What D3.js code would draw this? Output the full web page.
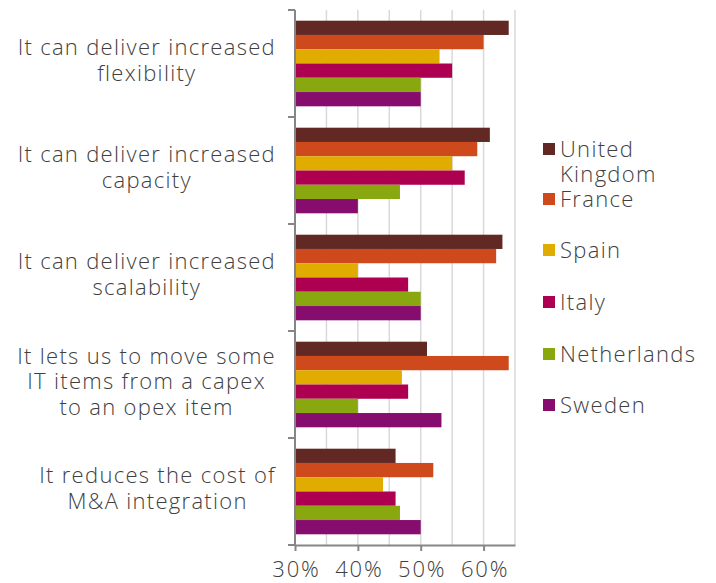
<!DOCTYPE html>
<html>
<head>
<meta charset="utf-8">
<script src="https://cdn.jsdelivr.net/npm/d3@7"></script>
<style>
  body { margin: 0; background: #fff; }
  text { font-family: "Open Sans", Lato, sans-serif; font-weight: 300; fill: #404040; letter-spacing: 1.3px; }
</style>
</head>
<body>
<div id="chart"></div>
<script>
// categories, top to bottom (each line of a label is an entry)
const categories = [
  ["It can deliver increased", "flexibility"],
  ["It can deliver increased", "capacity"],
  ["It can deliver increased", "scalability"],
  ["It lets us to move some", "IT items from a capex", "to an opex item"],
  ["It reduces the cost of", "M&A integration"]
]
const series = ["United Kingdom", "France", "Spain", "Italy", "Netherlands", "Sweden"]
const colors = ["#622823", "#ce4a1c", "#e1ac00", "#ad0050", "#89a70e", "#860d6d"]
// values in %, one row per category, columns follow series order
const values = [
  [64, 60, 53, 55, 50, 50],
  [61, 59, 55, 57, 46.7, 40],
  [63, 62, 40, 48, 50, 50],
  [51, 64, 47, 48, 40, 53.3],
  [46, 52, 44, 46, 46.7, 50]
]
const xTicks = [30, 40, 50, 60]

const W = 716, H = 583
const svg = d3.select("#chart").append("svg").attr("width", W).attr("height", H)

const x = d3.scaleLinear().domain([30, 65]).range([295, 515])
const y0 = d3.scaleBand().domain(d3.range(categories.length)).range([10, 545])
const bw = y0.bandwidth()
const gap = bw * 0.2
const y1 = d3.scaleBand().domain(series).range([gap / 2, bw - gap / 2])

// gridlines every 5%
svg.append("g")
  .selectAll("line")
  .data(d3.range(35, 66, 5))
  .enter().append("line")
  .attr("x1", d => x(d)).attr("x2", d => x(d))
  .attr("y1", 10).attr("y2", 545)
  .style("stroke", "#d9d9d9").style("stroke-width", 1.5)

// bars
categories.forEach((c, i) => {
  svg.append("g")
    .attr("transform", "translate(0," + y0(i) + ")")
    .selectAll("rect")
    .data(values[i])
    .enter().append("rect")
    .attr("x", x(30))
    .attr("y", (d, j) => y1(series[j]))
    .attr("width", d => x(d) - x(30))
    .attr("height", y1.bandwidth())
    .style("fill", (d, j) => colors[j])
})

// axes
const xAxis = svg.append("g")
  .attr("transform", "translate(0,545)")
  .call(d3.axisBottom(x).tickValues(xTicks).tickSize(6).tickSizeOuter(0).tickFormat(d => d + "%"))
xAxis.select(".domain").style("stroke", "#868686").style("stroke-width", 2)
xAxis.selectAll(".tick line").style("stroke", "#868686").style("stroke-width", 2)
xAxis.selectAll(".tick text")
  .attr("y", 32).attr("dy", 0).attr("dx", 1)
  .style("font-size", "22px").style("fill", "#404040")
  .style("font-family", "'Open Sans', sans-serif").style("font-weight", 300)
  .style("letter-spacing", "1.8px")

const yAxis = svg.append("g")
  .attr("transform", "translate(" + x(30) + ",0)")
yAxis.append("line")
  .attr("y1", 10).attr("y2", 546)
  .style("stroke", "#868686").style("stroke-width", 2)
yAxis.selectAll(".yt")
  .data(d3.range(categories.length + 1))
  .enter().append("line")
  .attr("x1", -7).attr("x2", 0)
  .attr("y1", d => 10 + d * bw).attr("y2", d => 10 + d * bw)
  .style("stroke", "#868686").style("stroke-width", 2)

// category labels: block right-aligned, lines centered within block
const lh = 25.5
categories.forEach((lines, i) => {
  const cy = y0(i) + bw / 2 + 4.5
  const g = svg.append("g")
  const t = g.selectAll("text").data(lines).enter().append("text")
    .attr("y", (d, k) => cy + (k - (lines.length - 1) / 2) * lh)
    .attr("text-anchor", "middle")
    .style("font-size", "22px")
    .text(d => d)
  let mw = 0
  t.each(function() { mw = Math.max(mw, this.getComputedTextLength()) })
  t.attr("x", 276 - mw / 2)
})

// legend
const legY = [157, 207, 258, 310, 362, 413]
const leg = svg.append("g")
series.forEach((s, i) => {
  leg.append("rect")
    .attr("x", 543).attr("y", legY[i] - 14)
    .attr("width", 12).attr("height", 12)
    .style("fill", colors[i])
  const words = i == 0 ? ["United", "Kingdom"] : [s]
  words.forEach((w, k) => {
    leg.append("text")
      .attr("x", 560).attr("y", legY[i] + k * 25)
      .style("font-size", "22px")
      .text(w)
  })
})
</script>
</body>
</html>
